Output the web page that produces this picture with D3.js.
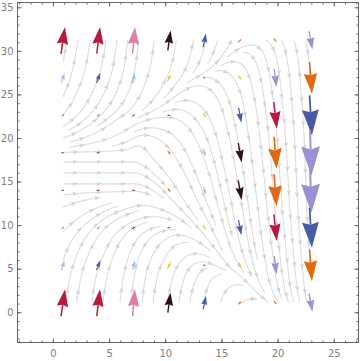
<!DOCTYPE html>
<html><head><meta charset="utf-8">
<script src="https://cdn.jsdelivr.net/npm/d3@7"></script>
<style>body{margin:0;background:#fff}svg{display:block}</style>
</head><body>
<svg id="chart" width="360" height="361"></svg>
<script>
// ---- data ----
const xVals = [0.9, 4.05, 7.2, 10.35, 13.5, 16.65, 19.8, 22.95];
const yVals = [31.2, 26.9, 22.6, 18.3, 14.0, 9.7, 5.4, 1.1]; // rows, top to bottom
const vxRows = [
  [0.36, 0.29, 0.21, 0.24, 0.24, 0.31, 0.27, 0.30],
  [0.27, 0.33, 0.22, 0.30, 0.27, 0.27, 0.20, 0.21],
  [0.27, 0.27, 0.31, 0.31, 0.30, 0.24, 0.27, 0.21],
  [0.31, 0.31, 0.00, 0.27, 0.24, 0.30, 0.22, 0.12],
  [0.31, 0.31, 0.31, 0.27, 0.24, 0.30, 0.22, 0.12],
  [0.27, 0.27, 0.31, 0.31, 0.30, 0.24, 0.27, 0.21],
  [0.27, 0.33, 0.22, 0.30, 0.27, 0.27, 0.20, 0.21],
  [0.36, 0.29, 0.21, 0.24, 0.24, 0.31, 0.27, 0.30]
];
const vyRows = [
  [3.07, 3.07, 3.07, 2.30, 1.56, 0.40, -0.40, -2.11],
  [1.15, 1.15, 1.15, 0.76, 0.00, -0.57, -2.07, -3.64],
  [0.34, 0.34, 0.23, 0.00, -0.54, -1.72, -3.07, -4.59],
  [0.00, 0.00, 0.00, -0.46, -0.88, -2.22, -3.67, -5.17],
  [0.00, 0.00, 0.00, -0.46, -0.88, -2.22, -3.67, -5.17],
  [0.34, 0.34, 0.23, 0.00, -0.54, -1.72, -3.07, -4.59],
  [1.15, 1.15, 1.15, 0.76, 0.00, -0.57, -2.07, -3.64],
  [3.07, 3.07, 3.07, 2.30, 1.56, 0.40, -0.40, -2.11]
];
const colorRows = [
  ["crimson","crimson","pink","dark","blue","orange","orange","lavender"],
  ["lightblue","blue","lightblue","yellow","darkred","yellow","lavender","orange"],
  ["orange","orange","darkred","darkred","yellow","blue","crimson","blue"],
  ["darkred","darkred","darkred","orange","lightblue","dark","orange","lavender"],
  ["darkred","darkred","darkred","orange","lightblue","dark","orange","lavender"],
  ["orange","orange","darkred","darkred","yellow","blue","crimson","blue"],
  ["lightblue","blue","lightblue","yellow","darkred","yellow","lavender","orange"],
  ["crimson","crimson","pink","dark","blue","orange","orange","lavender"]
];
const palette = {crimson:"#b81a3e", pink:"#dc809e", dark:"#2c0f21", blue:"#4b5aa6",
  lightblue:"#9ec1ea", yellow:"#f3c10e", orange:"#e06a10", lavender:"#9c8fd4", darkred:"#8c2b2b"};
const xMajor = [0, 5, 10, 15, 20, 25];
const yMajor = [0, 5, 10, 15, 20, 25, 30, 35];
const xMinor = d3.range(-3, 28);
const yMinor = d3.range(-3, 36);

// ---- scales ----
const svg = d3.select("#chart");
const x = d3.scaleLinear().domain([-3.15, 27.2]).range([17.5, 358.5]);
const y = d3.scaleLinear().domain([-3.47, 35.55]).range([342.5, 2.5]);

// ---- field in pixel space ----
const gx = xVals.map(v => x(v));
const gy = yVals.map(v => y(v));
const U = vxRows.map(r => r.map(v => x(v) - x(0)));
const V = vyRows.map(r => r.map(v => y(v) - y(0)));
const nC = gx.length, nR = gy.length;
function vel(px, py) {
  if (px < gx[0] || px > gx[nC-1] || py < gy[0] || py > gy[nR-1]) return null;
  let i = 0; while (i < nC-2 && px > gx[i+1]) i++;
  let j = 0; while (j < nR-2 && py > gy[j+1]) j++;
  const t = (px - gx[i]) / (gx[i+1] - gx[i]), s = (py - gy[j]) / (gy[j+1] - gy[j]);
  const bl = M => (1-t)*(1-s)*M[j][i] + t*(1-s)*M[j][i+1] + (1-t)*s*M[j+1][i] + t*s*M[j+1][i+1];
  return [bl(U), bl(V)];
}
function dir(px, py) {
  const w = vel(px, py); if (!w) return null;
  const m = Math.hypot(w[0], w[1]); if (m < 1e-9) return null;
  return [w[0]/m, w[1]/m];
}

// ---- evenly spaced streamlines ----
const dsep = 11, dtest = 5, h = 1;
const grid = new Map();
const key = (a, b) => a + "," + b;
function addPt(p, id) {
  const k = key(Math.floor(p[0]/dsep), Math.floor(p[1]/dsep));
  if (!grid.has(k)) grid.set(k, []);
  grid.get(k).push([p[0], p[1], id]);
}
function near(p, d, id) {
  const cx = Math.floor(p[0]/dsep), cy = Math.floor(p[1]/dsep);
  for (let a = -1; a <= 1; a++) for (let b = -1; b <= 1; b++) {
    const arr = grid.get(key(cx+a, cy+b)); if (!arr) continue;
    for (const q of arr) {
      if (q[2] === id) continue;
      if ((q[0]-p[0])**2 + (q[1]-p[1])**2 < d*d) return true;
    }
  }
  return false;
}
function step(p, sg) {
  const d1 = dir(p[0], p[1]); if (!d1) return null;
  const m = [p[0] + sg*h*0.5*d1[0], p[1] + sg*h*0.5*d1[1]];
  const d2 = dir(m[0], m[1]); if (!d2) return null;
  return [p[0] + sg*h*d2[0], p[1] + sg*h*d2[1]];
}
function trace(seed, id) {
  const half = sg => {
    const pts = []; let p = seed;
    for (let k = 0; k < 3000; k++) {
      const q = step(p, sg); if (!q) break;
      if (near(q, dtest, id)) break;
      pts.push(q); p = q;
    }
    return pts;
  };
  const f = half(1), b = half(-1);
  return b.reverse().concat([seed], f);
}
const lines = [], queue = [];
function tryAdd(seed) {
  if (!dir(seed[0], seed[1])) return;
  if (near(seed, dsep, -1)) return;
  const id = lines.length;
  const pts = trace(seed, id);
  if (pts.length < 12) return;
  lines.push(pts);
  pts.forEach(p => addPt(p, id));
  queue.push(id);
}
function drain() {
  while (queue.length) {
    const pts = lines[queue.shift()];
    for (let k = 0; k < pts.length; k += 3) {
      const p = pts[k], d = dir(p[0], p[1]); if (!d) continue;
      tryAdd([p[0] - d[1]*dsep, p[1] + d[0]*dsep]);
      tryAdd([p[0] + d[1]*dsep, p[1] - d[0]*dsep]);
    }
  }
}
tryAdd([x(6), y(16)]); drain();
for (let px = gx[0] + 2; px < gx[nC-1]; px += dsep/2)
  for (let py = gy[0] + 2; py < gy[nR-1]; py += dsep/2) { tryAdd([px, py]); drain(); }

const gStream = svg.append("g");
gStream.selectAll("path.sl").data(lines).join("path")
  .attr("class", "sl").attr("fill", "none").attr("stroke", "#dcdcdc")
  .attr("stroke-width", 1.1).attr("d", d3.line());

// stream arrowheads
const heads = [];
lines.forEach(pts => {
  let s = 0, next = 12;
  for (let k = 1; k < pts.length; k++) {
    const dx = pts[k][0]-pts[k-1][0], dy = pts[k][1]-pts[k-1][1];
    s += Math.hypot(dx, dy);
    if (s >= next) { heads.push({p: pts[k], a: Math.atan2(dy, dx)}); next += 24; }
  }
});
gStream.selectAll("path.sh").data(heads).join("path")
  .attr("class", "sh").attr("fill", "#d4d4d4")
  .attr("transform", d => `translate(${d.p[0]},${d.p[1]}) rotate(${d.a*180/Math.PI})`)
  .attr("d", "M2.8,0 L-2.8,-2.2 L-1.8,0 L-2.8,2.2 Z");

// ---- vector arrows ----
const vecs = [];
yVals.forEach((yy, j) => xVals.forEach((xx, i) => {
  const vx = vxRows[j][i], vy = vyRows[j][i];
  if (vx === 0 && vy === 0) return;
  vecs.push({x0: x(xx - vx/2), y0: y(yy - vy/2), x1: x(xx + vx/2), y1: y(yy + vy/2), c: palette[colorRows[j][i]]});
}));
const gVec = svg.append("g");
vecs.forEach(d => {
  const L = Math.hypot(d.x1-d.x0, d.y1-d.y0);
  const ux = (d.x1-d.x0)/L, uy = (d.y1-d.y0)/L;
  const hl = 0.64*L, hw = 0.21*L;
  const bx = d.x1 - ux*hl, by = d.y1 - uy*hl;
  const nx = d.x1 - ux*hl*0.9, ny = d.y1 - uy*hl*0.9;
  gVec.append("line").attr("x1", d.x0).attr("y1", d.y0).attr("x2", nx).attr("y2", ny)
    .attr("stroke", d.c).attr("stroke-width", Math.min(2, 0.9 + L*0.022));
  gVec.append("path").attr("fill", d.c)
    .attr("d", `M${d.x1},${d.y1}L${bx - uy*hw},${by + ux*hw}L${nx},${ny}L${bx + uy*hw},${by - ux*hw}Z`);
});

// ---- frame and ticks ----
const frameCol = "#666", labCol = "#808080";
const gAx = svg.append("g");
function axis(gen, scale, vals, size, labels, tr, pad) {
  const a = gen(scale).tickValues(vals).tickSizeInner(-size).tickSizeOuter(0).tickPadding(pad || 3);
  if (!labels) a.tickFormat("");
  const g = gAx.append("g").attr("transform", tr).call(a);
  g.select(".domain").remove();
  g.selectAll("line").attr("stroke", frameCol);
  g.selectAll("text").attr("fill", labCol).style("font-family", "DejaVu Sans, sans-serif").style("font-size", "10px");
}
axis(d3.axisBottom, x, xMinor, 2, false, "translate(0,342.5)");
axis(d3.axisBottom, x, xMajor, 4, true, "translate(0,342.5)", 7);
axis(d3.axisTop, x, xMinor, 2, false, "translate(0,2.5)");
axis(d3.axisTop, x, xMajor, 4, false, "translate(0,2.5)");
axis(d3.axisLeft, y, yMinor, 2, false, "translate(17.5,0)");
axis(d3.axisLeft, y, yMajor, 4, true, "translate(17.5,0)", 4);
axis(d3.axisRight, y, yMinor, 2, false, "translate(358.5,0)");
axis(d3.axisRight, y, yMajor, 4, false, "translate(358.5,0)");
gAx.append("rect").attr("x", 17.5).attr("y", 2.5).attr("width", 341).attr("height", 340)
  .attr("fill", "none").attr("stroke", frameCol).attr("stroke-width", 1);
</script>
</body></html>
